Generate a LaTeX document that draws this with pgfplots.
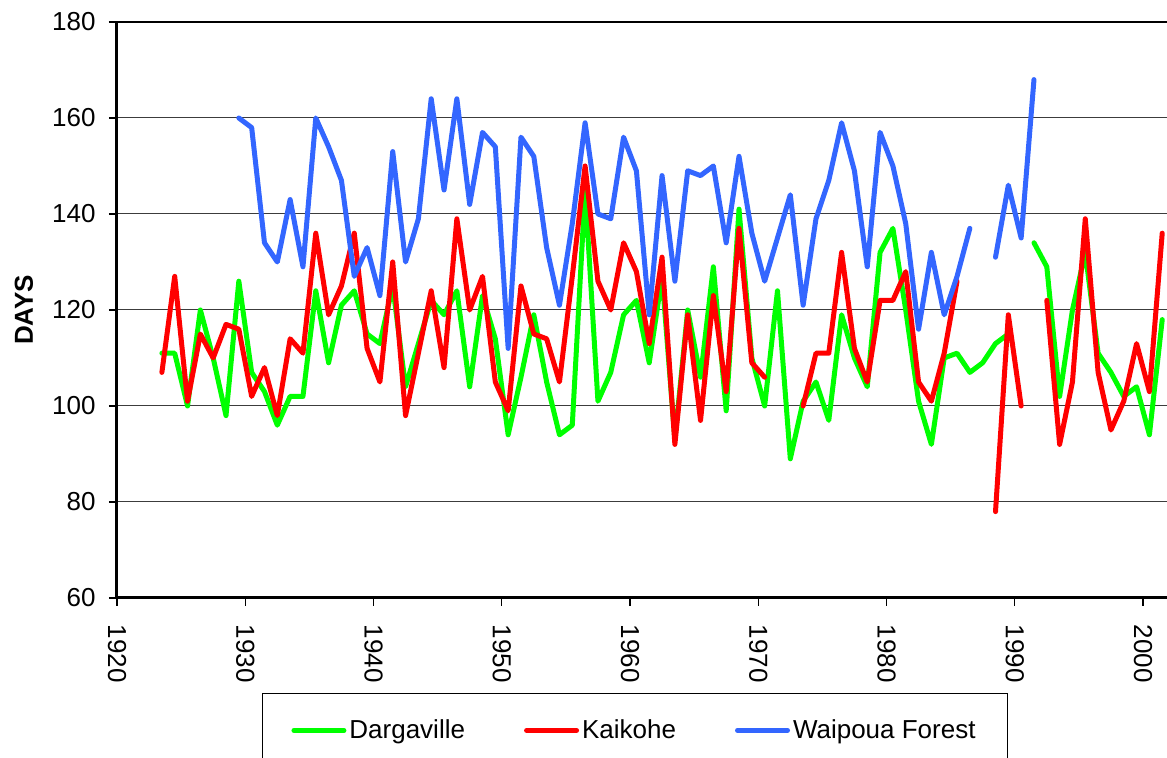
\documentclass[border=0pt]{standalone}
\usepackage{fontspec}
\setmainfont{Liberation Sans}
\usepackage{pgfplots}
\usepackage{pgfplotstable}
\pgfplotsset{compat=1.18}
\definecolor{cg}{RGB}{0,255,0}
\definecolor{cr}{RGB}{255,0,0}
\definecolor{cb}{RGB}{51,102,255}
\definecolor{gridc}{RGB}{60,60,60}
\pgfplotstableread{
x G R B
1923.5 111 107 nan
1924.5 111 127 nan
1925.5 100 101 nan
1926.5 120 115 nan
1927.5 110 110 nan
1928.5 98 117 nan
1929.5 126 116 160
1930.5 107 102 158
1931.5 103 108 134
1932.5 96 98 130
1933.5 102 114 143
1934.5 102 111 129
1935.5 124 136 160
1936.5 109 119 154
1937.5 121 125 147
1938.5 124 136 127
1939.5 115 112 133
1940.5 113 105 123
1941.5 125 130 153
1942.5 104 98 130
1943.5 113 111 139
1944.5 122 124 164
1945.5 119 108 145
1946.5 124 139 164
1947.5 104 120 142
1948.5 123 127 157
1949.5 114 105 154
1950.5 94 99 112
1951.5 106 125 156
1952.5 119 115 152
1953.5 105 114 133
1954.5 94 105 121
1955.5 96 127 138
1956.5 145 150 159
1957.5 101 126 140
1958.5 107 120 139
1959.5 119 134 156
1960.5 122 128 149
1961.5 109 113 119
1962.5 127 131 148
1963.5 93 92 126
1964.5 120 119 149
1965.5 106 97 148
1966.5 129 123 150
1967.5 99 103 134
1968.5 141 137 152
1969.5 110 109 136
1970.5 100 106 126
1971.5 124 nan 135
1972.5 89 nan 144
1973.5 101 100 121
1974.5 105 111 139
1975.5 97 111 147
1976.5 119 132 159
1977.5 110 112 149
1978.5 104 105 129
1979.5 132 122 157
1980.5 137 122 150
1981.5 120 128 138
1982.5 101 105 116
1983.5 92 101 132
1984.5 110 111 119
1985.5 111 126 127
1986.5 107 nan 137
1987.5 109 nan nan
1988.5 113 78 131
1989.5 115 119 146
1990.5 nan 100 135
1991.5 134 nan 168
1992.5 129 122 nan
1993.5 102 92 nan
1994.5 120 105 nan
1995.5 132 139 nan
1996.5 111 107 nan
1997.5 107 95 nan
1998.5 102 101 nan
1999.5 104 113 nan
2000.5 94 103 nan
2001.5 118 136 nan
}\data

\begin{document}
\begin{tikzpicture}
\useasboundingbox (-58.5pt,-80pt) rectangle (525pt,299pt);
\begin{axis}[
  at={(0,0)}, anchor=south west,
  scale only axis, width=527.1pt, height=288pt,
  xmin=1920, xmax=2002.2, ymin=60, ymax=180,
  xtick={1920,1930,...,2000}, ytick={60,80,...,180},
  axis x line*=bottom, axis y line*=left,
  axis line style={line width=1.5pt, black},
  tick align=outside, major tick length=4pt,
  tick style={black, line width=0.6pt},
  ymajorgrids, grid style={gridc, line width=0.5pt},
  extra y ticks={180}, extra y tick labels={},
  extra y tick style={grid style={black, line width=1pt}},
  /pgf/number format/1000 sep={},
  /pgf/number format/assume math mode=true,
  tick label style={font=\fontsize{13}{15}\selectfont},
  xticklabel style={rotate=-90, anchor=west, inner xsep=9.3pt},
  yticklabel style={inner xsep=6.5pt},
  ylabel={\textbf{DAYS}},
  ylabel style={at={(axis description cs:-0.0882,0.5)}, anchor=center, font=\fontsize{13}{15}\selectfont},
  unbounded coords=jump,
  every axis plot/.append style={line width=2.5pt, line join=round, line cap=round},
  legend columns=3,
  legend image code/.code={\draw[#1, line width=2.5pt, line cap=round] (0pt,0pt) -- (25pt,0pt);},
  legend style={at={(axis description cs:0.1375,-0.1649)}, anchor=north west,
    draw=black, line width=0.5pt, font=\fontsize{13}{15}\selectfont,
    inner xsep=14.5pt, inner ysep=10pt,
    nodes={inner xsep=1.5pt, inner ysep=3pt},
    /tikz/every even column/.append style={column sep=28pt}},
]
\addplot[cg, no markers] table[x=x, y=G] {\data};
\addlegendentry{Dargaville}
\addplot[cr, no markers] table[x=x, y=R] {\data};
\addlegendentry{Kaikohe}
\addplot[cb, no markers] table[x=x, y=B] {\data};
\addlegendentry{Waipoua Forest}
\end{axis}
\end{tikzpicture}
\end{document}
